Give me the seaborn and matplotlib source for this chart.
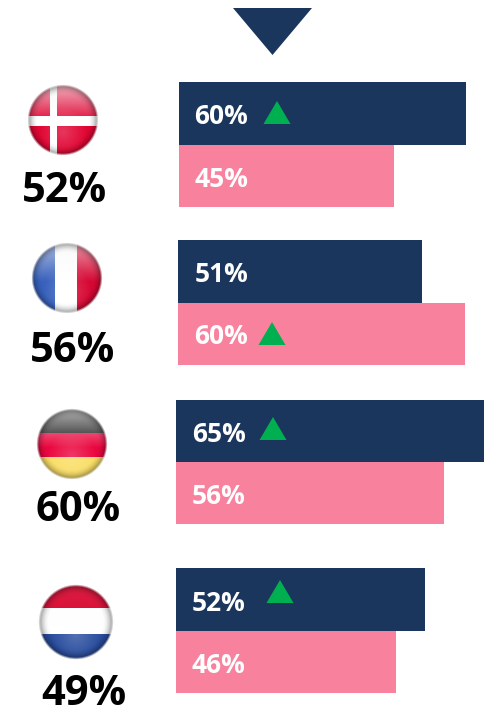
import numpy as np
import pandas as pd

import matplotlib
matplotlib.use('Agg')

from matplotlib import pyplot as plt
import seaborn as sns

countries = ['Denmark', 'France', 'Germany', 'Netherlands']
totals = [52, 56, 60, 49]
navy_values = [60, 51, 65, 52]
pink_values = [45, 60, 56, 46]
navy_arrow = [True, False, True, True]
pink_arrow = [False, True, False, False]

NAVY = '#1B365D'
PINK = '#F8829E'
GREEN = '#00B050'
W, H = 485, 708
PX_PER_PCT = 4.78

# layout in pixels, one row per country
bar_left = [179, 178, 176, 176]
bar_top = [82, 240, 400, 568]
bar_bottom = [207, 365, 524, 693]
label_x = [194.5, 194.5, 192, 192]
navy_base = [124, 282, 442, 611]
pink_base = [187, 344, 504, 673]
arrow_tips = [(277, 101, 124), (272, 322, 345), (273, 417, 440), (280, 580, 603)]
total_x = [65, 72.5, 78, 83.5]
total_base = [202, 362, 521, 705]
flag_xy = [(63.5, 120.5), (67.5, 278), (72, 444), (76, 622)]
flag_r = [35, 35, 35, 37]
flag_gloss = [0.7, 0.6, 0.7, 0.08]


def flag_colors(name, u, v):
    img = np.ones(u.shape + (3,))
    if name == 'Denmark':
        img[:] = (0.88, 0.02, 0.2)
        img[((u > -0.39) & (u < -0.16)) | ((v > -0.13) & (v < 0.16))] = (1, 1, 1)
    elif name == 'France':
        img[u < -0.36] = (0.22, 0.38, 0.74)
        img[u > 0.3] = (0.84, 0.03, 0.2)
    elif name == 'Germany':
        img[:] = (0.1, 0.1, 0.1)
        img[v > -0.31] = (0.92, 0.03, 0.25)
        img[v > 0.37] = (0.98, 0.87, 0.4)
    else:
        img[v < -0.38] = (0.85, 0.04, 0.2)
        img[v > 0.32] = (0.16, 0.3, 0.62)
    return img


def draw_flag(name, cx, cy, r, gloss):
    size = 2 * r + 6
    ax = fig.add_axes([(cx - size / 2) / W, 1 - (cy + size / 2) / H, size / W, size / H])
    c = np.linspace(-size / 2 / r, size / 2 / r, size)
    u, v = np.meshgrid(c, c)
    d = np.sqrt(u ** 2 + v ** 2)
    img = flag_colors(name, u, v)

    # glossy highlight on the top half, dark rim, glow at the bottom
    top = np.clip((0.1 - v) / 1.1, 0, 1)[..., None]
    img = img + (0.97 - img) * top * gloss
    glow = np.clip(1 - np.sqrt(u ** 2 + (v - 0.35) ** 2) / 0.7, 0, 1)[..., None]
    img = img + (1 - img) * glow * 0.2
    rim = np.clip((d - 0.72) / 0.28, 0, 1)[..., None] ** 2
    img = img * (1 - 0.4 * rim)

    rgba = np.dstack([np.clip(img, 0, 1), np.clip((1.03 - d) * r / 2.5, 0, 1)])
    ax.imshow(rgba, interpolation='bilinear')
    ax.axis('off')


sns.set_theme(style='white')
plt.rcParams['font.family'] = ['Open Sans', 'DejaVu Sans']
plt.rcParams['font.weight'] = 'bold'

fig = plt.figure(figsize=(W / 100, H / 100), dpi=100)

for i, country in enumerate(countries):
    left = bar_left[i]
    ax = fig.add_axes([left / W, 1 - bar_bottom[i] / H, (W - left) / W,
                       (bar_bottom[i] - bar_top[i]) / H])
    df = pd.DataFrame({'series': ['navy', 'pink'],
                       'value': [navy_values[i], pink_values[i]]})
    sns.barplot(data=df, x='value', y='series', hue='series', dodge=False,
                palette={'navy': NAVY, 'pink': PINK}, saturation=1, width=1,
                linewidth=0, legend=False, ax=ax)
    ax.set_xlim(0, (W - left) / PX_PER_PCT)
    ax.set_ylim(1.5, -0.5)
    ax.axis('off')
    draw_flag(country, flag_xy[i][0], flag_xy[i][1], flag_r[i], flag_gloss[i])

# overlay in pixel coordinates for the labels and triangles
over = fig.add_axes([0, 0, 1, 1], facecolor='none')
over.set_xlim(0, W)
over.set_ylim(H, 0)
over.axis('off')

over.fill([233, 312, 272.5], [8, 8, 55], color=NAVY, linewidth=0)

for i in range(len(countries)):
    over.text(label_x[i], navy_base[i], f'{navy_values[i]}%', color='white',
              fontsize=19, fontweight='bold', va='baseline')
    over.text(label_x[i], pink_base[i], f'{pink_values[i]}%', color='white',
              fontsize=19, fontweight='bold', va='baseline')
    over.text(total_x[i], total_base[i], f'{totals[i]}%', color='black',
              fontsize=30, fontweight='bold', ha='center', va='baseline')
    if navy_arrow[i] or pink_arrow[i]:
        x, y_top, y_base = arrow_tips[i]
        over.fill([x - 13.5, x + 13.5, x], [y_base, y_base, y_top], color=GREEN, linewidth=0)

fig.savefig('out.png', dpi=100)
